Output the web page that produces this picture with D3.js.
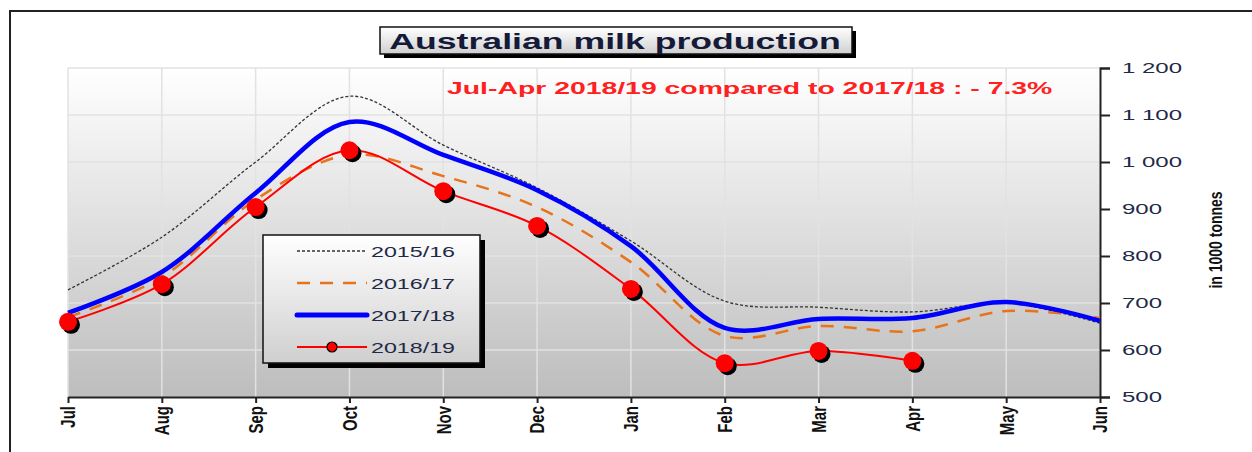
<!DOCTYPE html>
<html>
<head>
<meta charset="utf-8">
<script src="https://cdn.jsdelivr.net/npm/d3@7"></script>
<style>
  body { margin: 0; background: #fff; }
  svg { display: block; font-family: "Liberation Sans", Arial, sans-serif; }
</style>
</head>
<body>
<svg id="chart" width="1252" height="452"></svg>
<script>
const months = ["Jul", "Aug", "Sep", "Oct", "Nov", "Dec", "Jan", "Feb", "Mar", "Apr", "May", "Jun"];
const s1516 = [728, 840, 1000, 1140, 1036, 945, 832, 704, 691, 681, 700, 657];
const s1617 = [670, 755, 920, 1015, 970, 904, 787, 630, 651, 640, 683, 668];
const s1718 = [679, 766, 934, 1085, 1015, 940, 821, 647, 666, 668, 702, 662];
const s1819 = [660, 740, 904, 1025, 938, 864, 730, 572, 598, 577];
const yTicks = [500, 600, 700, 800, 900, 1000, 1100, 1200];
const title = "Australian milk production";
const note = "Jul-Apr 2018/19 compared to 2017/18 : - 7.3%";

const svg = d3.select("#chart");
const pLeft = 68, pRight = 1100, pTop = 68, pBottom = 397;
const sx = 1.55; // the original is stretched sideways

const x = d3.scalePoint().domain(months).range([pLeft, pRight]);
const y = d3.scaleLinear().domain([500, 1200]).range([pBottom, pTop]);

const defs = svg.append("defs");
const bg = defs.append("linearGradient").attr("id", "bg").attr("x1", 0).attr("y1", 0).attr("x2", 0).attr("y2", 1);
bg.append("stop").attr("offset", "0%").attr("stop-color", "#ffffff");
bg.append("stop").attr("offset", "100%").attr("stop-color", "#bdbdbd");
const box = defs.append("linearGradient").attr("id", "box").attr("x1", 0).attr("y1", 0).attr("x2", 0).attr("y2", 1);
box.append("stop").attr("offset", "0%").attr("stop-color", "#ffffff");
box.append("stop").attr("offset", "100%").attr("stop-color", "#cfcfcf");

// outer frame
svg.append("path").attr("d", "M10,452 V11 H1252").attr("fill", "none").attr("stroke", "#222").attr("stroke-width", 2);

// plot background
svg.append("rect").attr("x", pLeft).attr("y", pTop).attr("width", pRight - pLeft).attr("height", pBottom - pTop).attr("fill", "url(#bg)");

// grid
svg.append("g").selectAll("line").data(yTicks.slice(1)).join("line")
  .attr("x1", pLeft).attr("x2", pRight).attr("y1", d => y(d)).attr("y2", d => y(d))
  .attr("stroke", "#e2e2e2").attr("stroke-width", 1.5);
svg.append("g").selectAll("line").data(months.slice(0, -1)).join("line")
  .attr("x1", d => x(d)).attr("x2", d => x(d)).attr("y1", pTop).attr("y2", pBottom)
  .attr("stroke", "#e2e2e2").attr("stroke-width", 1.5);

// axes
const fmt = v => d3.format(",")(v).replace(",", " ");
const yAxis = svg.append("g").attr("transform", `translate(${pRight},0)`)
  .call(d3.axisRight(y).tickValues(yTicks).tickSize(10).tickPadding(12).tickFormat(fmt));
yAxis.select(".domain").attr("stroke", "#222").attr("stroke-width", 2);
yAxis.selectAll(".tick line").attr("stroke", "#222").attr("stroke-width", 2);
yAxis.selectAll("text")
  .attr("x", 0).attr("transform", "translate(22,0) scale(1.6,1)")
  .style("font-size", "15px").attr("fill", "#1d2a48");

const xAxis = svg.append("g").attr("transform", `translate(0,${pBottom})`)
  .call(d3.axisBottom(x).tickSize(6).tickSizeOuter(0));
xAxis.select(".domain").attr("stroke", "#222").attr("stroke-width", 2);
xAxis.selectAll(".tick line").attr("stroke", "#222").attr("stroke-width", 2);
xAxis.selectAll("text")
  .attr("transform", "scale(1.3,1) rotate(-90)")
  .attr("x", -9).attr("y", 0).attr("dy", "0.35em")
  .attr("text-anchor", "end")
  .style("font-size", "15px").attr("font-weight", "bold").attr("fill", "#111");

svg.append("text")
  .attr("transform", `translate(1216,240) scale(1.3,1) rotate(-90)`)
  .attr("text-anchor", "middle").attr("dy", "0.35em")
  .attr("font-size", 14).attr("font-weight", "bold").attr("fill", "#111")
  .text("in 1000 tonnes");

// lines
const line = d3.line().x((d, i) => x(months[i])).y(d => y(d)).curve(d3.curveCatmullRom.alpha(0.5));

svg.append("path").attr("d", line(s1516)).attr("fill", "none")
  .attr("stroke", "#333").attr("stroke-width", 1.3).attr("stroke-dasharray", "3,2");
svg.append("path").attr("d", line(s1617)).attr("fill", "none")
  .attr("stroke", "#e8731a").attr("stroke-width", 2.5).attr("stroke-dasharray", "13,10");
svg.append("path").attr("d", line(s1718)).attr("fill", "none")
  .attr("stroke", "#0000ff").attr("stroke-width", 4.5);
svg.append("path").attr("d", line(s1819)).attr("fill", "none")
  .attr("stroke", "#ff0000").attr("stroke-width", 2);

svg.append("g").selectAll("circle").data(s1819).join("circle")
  .attr("cx", (d, i) => x(months[i]) + 3).attr("cy", d => y(d) + 3).attr("r", 9).attr("fill", "#000");
svg.append("g").selectAll("circle").data(s1819).join("circle")
  .attr("cx", (d, i) => x(months[i])).attr("cy", d => y(d)).attr("r", 9).attr("fill", "#ff0000");

// title box
svg.append("rect").attr("x", 384).attr("y", 31).attr("width", 472).attr("height", 27).attr("fill", "#000");
svg.append("rect").attr("x", 380).attr("y", 27).attr("width", 472).attr("height", 27)
  .attr("fill", "url(#box)").attr("stroke", "#111").attr("stroke-width", 1.5);
svg.append("text").attr("transform", `translate(615,49) scale(1.62,1)`).attr("text-anchor", "middle")
  .attr("font-size", 22).attr("font-weight", "bold").attr("fill", "#141a38")
  .text(title);

svg.append("text").attr("transform", `translate(447,94) scale(1.67,1)`)
  .attr("font-size", 17).attr("font-weight", "bold").attr("fill", "#ff2020")
  .text(note);

// legend
const lg = svg.append("g");
lg.append("rect").attr("x", 268).attr("y", 240).attr("width", 217).attr("height", 128).attr("fill", "#000");
lg.append("rect").attr("x", 263).attr("y", 235).attr("width", 217).attr("height", 128)
  .attr("fill", "url(#box)").attr("stroke", "#111").attr("stroke-width", 1.5);
const legend = [
  { name: "2015/16", stroke: "#333", w: 1.3, dash: "3,2" },
  { name: "2016/17", stroke: "#e8731a", w: 2.5, dash: "13,10" },
  { name: "2017/18", stroke: "#0000ff", w: 5, dash: null },
  { name: "2018/19", stroke: "#ff0000", w: 2, dash: null, marker: true }
];
legend.forEach((d, i) => {
  const ly = 251 + i * 32;
  lg.append("line").attr("x1", 297).attr("x2", 367).attr("y1", ly).attr("y2", ly)
    .attr("stroke", d.stroke).attr("stroke-width", d.w).attr("stroke-dasharray", d.dash)
    .attr("stroke-linecap", d.w > 4 ? "round" : "butt");
  if (d.marker) {
    lg.append("circle").attr("cx", 332).attr("cy", ly).attr("r", 5).attr("fill", "#ff0000").attr("stroke", "#000").attr("stroke-width", 1.2);
  }
  lg.append("text").attr("transform", `translate(371,${ly + 5.5}) scale(${sx},1)`)
    .attr("font-size", 15).attr("fill", "#1d2a48").text(d.name);
});
</script>
</body>
</html>
